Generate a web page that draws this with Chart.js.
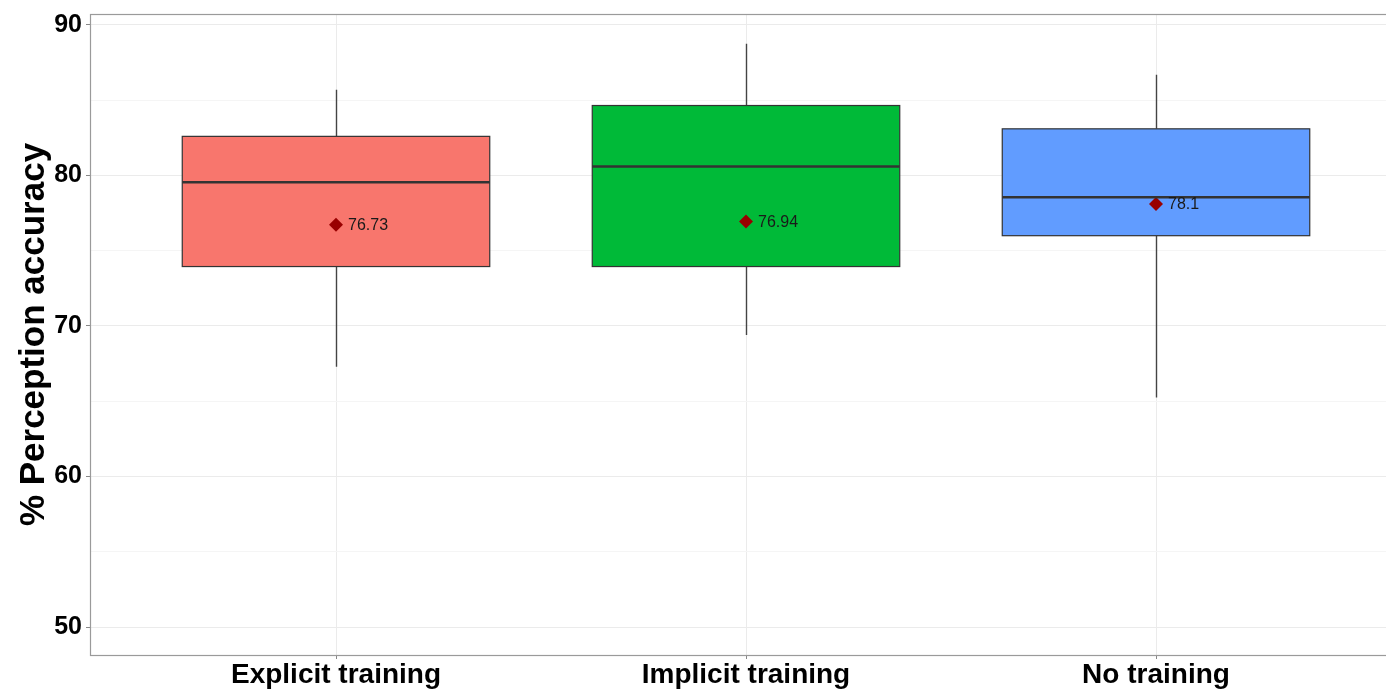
<!DOCTYPE html>
<html>
<head>
<meta charset="utf-8">
<script src="https://cdn.jsdelivr.net/npm/chart.js@4.4.0/dist/chart.umd.min.js"></script>
<style>
  html, body { margin: 0; padding: 0; background: #fff; overflow: hidden; }
  #wrap { width: 1410px; height: 689px; }
</style>
</head>
<body>
<div id="wrap"><canvas id="acc"></canvas></div>
<script>
// groups and their box summaries
const groups = ['Explicit training', 'Implicit training', 'No training'];
const fills = ['#F8766D', '#00BA38', '#619CFF'];
const lowWhisker = [67.3, 69.4, 65.25];
const q1 = [73.95, 73.95, 76.0];
const medians = [79.55, 80.6, 78.55];
const q3 = [82.6, 84.65, 83.1];
const highWhisker = [85.7, 88.75, 86.7];
const means = [76.73, 76.94, 78.1];
const yTicks = [50, 60, 70, 80, 90];

const pos = groups.map((g, i) => i + 1);
const FONT = "'Liberation Sans', Arial, Helvetica, sans-serif";

// whiskers, medians, panel border and mean labels
const boxExtras = {
  id: 'boxExtras',
  beforeDatasetsDraw(chart) {
    const { ctx, scales: { x, y } } = chart;
    ctx.save();
    ctx.strokeStyle = '#444';
    ctx.lineWidth = 1.4;
    pos.forEach((p, i) => {
      const px = Math.round(x.getPixelForValue(p)) + 0.5;
      ctx.beginPath();
      ctx.moveTo(px, y.getPixelForValue(highWhisker[i]));
      ctx.lineTo(px, y.getPixelForValue(q3[i]));
      ctx.moveTo(px, y.getPixelForValue(q1[i]));
      ctx.lineTo(px, y.getPixelForValue(lowWhisker[i]));
      ctx.stroke();
    });
    ctx.restore();
  },
  afterDatasetsDraw(chart) {
    const { ctx, chartArea: a, scales: { x, y } } = chart;
    ctx.save();
    const boxes = chart.getDatasetMeta(0).data;
    // box outlines, then the median bar across each box
    ctx.strokeStyle = '#333';
    ctx.lineWidth = 1.2;
    boxes.forEach((bar) => {
      const half = bar.width / 2;
      ctx.strokeRect(bar.x - half, bar.y, bar.width, bar.base - bar.y);
    });
    ctx.lineWidth = 2.6;
    boxes.forEach((bar, i) => {
      const half = bar.width / 2;
      const py = y.getPixelForValue(medians[i]);
      ctx.beginPath();
      ctx.moveTo(bar.x - half, py);
      ctx.lineTo(bar.x + half, py);
      ctx.stroke();
    });
    // mean markers are drawn by dataset 1; put the values beside them
    ctx.fillStyle = '#1a1a1a';
    ctx.font = '16px ' + FONT;
    ctx.textBaseline = 'middle';
    chart.getDatasetMeta(1).data.forEach((pt, i) => {
      ctx.fillText(String(means[i]), pt.x + 12, pt.y + 1);
    });
    ctx.strokeStyle = '#9a9a9a';
    ctx.lineWidth = 1.2;
    ctx.strokeRect(a.left + 0.5, a.top + 0.5, a.right - a.left, a.bottom - a.top);
    ctx.restore();
  }
};

new Chart(document.getElementById('acc'), {
  data: {
    datasets: [
      {
        type: 'bar',
        data: pos.map((p, i) => ({ x: p, y: [q1[i], q3[i]] })),
        backgroundColor: fills,
        borderWidth: 0,
        barPercentage: 0.75,
        categoryPercentage: 1,
        order: 2
      },
      {
        type: 'scatter',
        data: pos.map((p, i) => ({ x: p, y: means[i] })),
        pointStyle: 'rectRot',
        pointRadius: 7,
        backgroundColor: '#990000',
        borderColor: '#990000',
        borderWidth: 0,
        order: 1
      }
    ]
  },
  options: {
    responsive: true,
    maintainAspectRatio: false,
    animation: false,
    layout: { padding: { left: 0, top: 14, right: 8, bottom: 0 } },
    plugins: { legend: { display: false }, tooltip: { enabled: false } },
    scales: {
      x: {
        type: 'linear',
        min: 0.4,
        max: 3.6,
        offset: false,
        afterBuildTicks: (s) => { s.ticks = pos.map(v => ({ value: v })); },
        afterFit: (s) => { s.height = 34; },
        border: { display: false },
        grid: { offset: false, color: '#ebebeb', lineWidth: 1, tickLength: 4, tickColor: '#888' },
        ticks: {
          callback: (v) => groups[v - 1],
          color: '#000',
          padding: 2,
          autoSkip: false,
          maxRotation: 0,
          font: { family: FONT, size: 28, weight: 'bold', lineHeight: 1 }
        }
      },
      y: {
        min: 48.14,
        max: 90.73,
        afterBuildTicks: (s) => {
          const t = [];
          for (let v = 50; v <= 90; v += 5) t.push({ value: v });
          s.ticks = t;
        },
        afterFit: (s) => { s.width = 90; },
        border: { display: false },
        grid: {
          color: (c) => (c.tick && c.tick.value % 10 === 0 ? '#ebebeb' : '#f5f5f5'),
          lineWidth: 1,
          tickLength: 4,
          tickColor: (c) => (c.tick && c.tick.value % 10 === 0 ? '#888' : 'rgba(0,0,0,0)')
        },
        ticks: {
          callback: (v) => (yTicks.includes(v) ? String(v) : ''),
          color: '#000',
          padding: 4,
          font: { family: FONT, size: 25, weight: 'bold', lineHeight: 0.5 }
        },
        title: {
          display: true,
          text: '% Perception accuracy',
          color: '#000',
          padding: { top: 17, bottom: 0 },
          font: { family: FONT, size: 35, weight: 'bold', lineHeight: 1 }
        }
      }
    }
  },
  plugins: [boxExtras]
});
</script>
</body>
</html>
